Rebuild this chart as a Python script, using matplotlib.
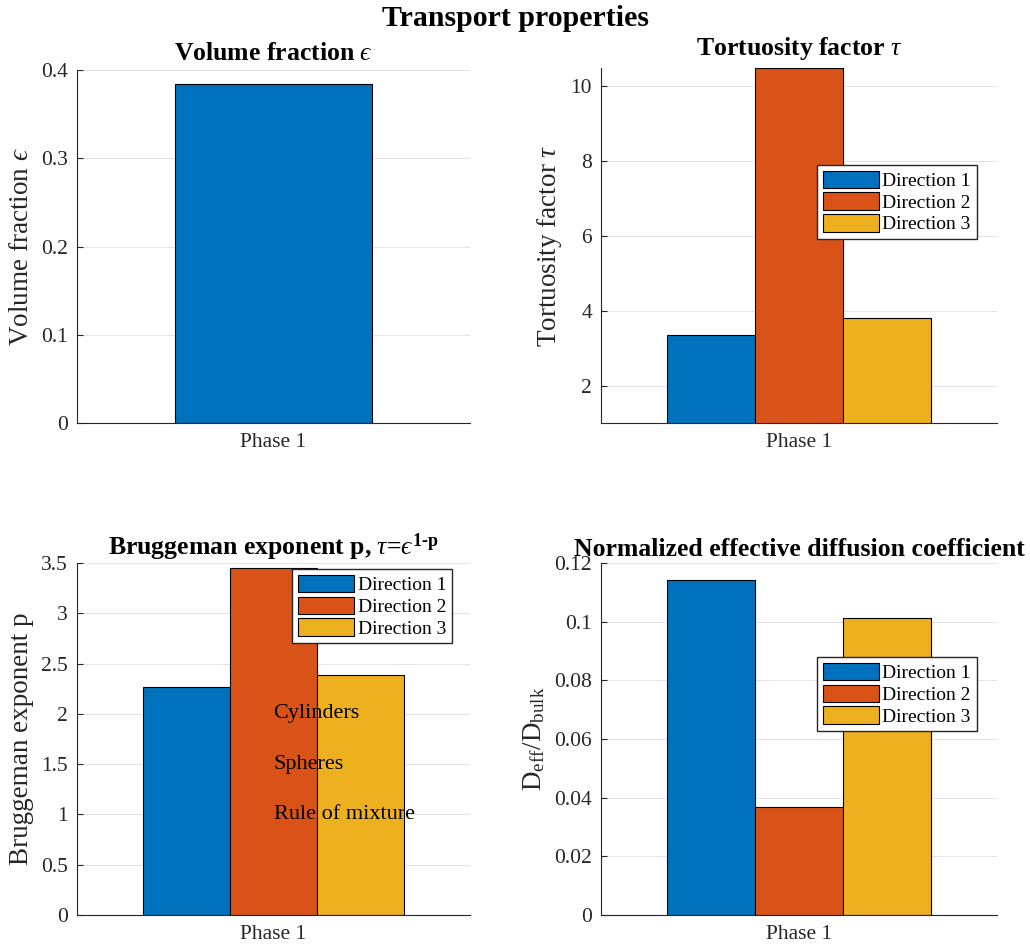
import matplotlib
matplotlib.use("Agg")
import matplotlib.pyplot as plt
import numpy as np

# ---- data ----
phase_labels = ["Phase 1"]
direction_labels = ["Direction 1", "Direction 2", "Direction 3"]
volume_fraction = [0.384]
tortuosity = [3.36, 10.47, 3.79]
bruggeman = [2.27, 3.45, 2.39]
norm_diffusion = [0.1143, 0.0367, 0.1013]
bruggeman_refs = ["Cylinders", "Spheres", "Rule of mixture"]
bruggeman_ref_y = [2.0, 1.5, 1.0]

colors = ["#0072BD", "#D95319", "#EDB120"]
axis_color = "#262626"
grid_color = "#e3e3e3"

plt.rcParams["font.family"] = ["Liberation Serif", "DejaVu Serif"]
plt.rcParams["mathtext.fontset"] = "custom"
plt.rcParams["mathtext.rm"] = "Liberation Serif"
plt.rcParams["mathtext.it"] = "Liberation Serif:italic"
plt.rcParams["mathtext.bf"] = "Liberation Serif:bold"
plt.rcParams["mathtext.fallback"] = "stix"

TICK_FS = 15.5
LABEL_FS = 19.5
TITLE_FS = 18.5
EPS = "\u03f5"  # lunate epsilon

fig = plt.figure(figsize=(10.3, 9.5), dpi=100)

def px_axes(left, right, top, bottom):
    W, H = 1030, 950
    return fig.add_axes([left / W, 1 - bottom / H, (right - left) / W, (bottom - top) / H])

ax_tl = px_axes(77, 470, 70, 423)
ax_tr = px_axes(601, 997, 68, 423)
ax_bl = px_axes(77, 470, 563, 915)
ax_br = px_axes(601, 997, 563, 915)


def style(ax, yticks, yticklabels, ylim):
    ax.set_xlim(0.5, 1.5)
    ax.set_ylim(*ylim)
    ax.set_yticks(yticks)
    ax.set_yticklabels(yticklabels)
    ax.set_xticks([1])
    ax.set_xticklabels(phase_labels)
    for s in ("top", "right"):
        ax.spines[s].set_visible(False)
    for s in ("left", "bottom"):
        ax.spines[s].set_color(axis_color)
        ax.spines[s].set_linewidth(0.8)
    ax.tick_params(axis="y", direction="in", length=4, width=0.8, color=axis_color,
                   labelcolor=axis_color, labelsize=TICK_FS, pad=6.5)
    ax.tick_params(axis="x", direction="in", length=0, labelcolor=axis_color,
                   labelsize=TICK_FS, pad=7)
    ax.yaxis.grid(True, color=grid_color, linewidth=0.8)
    ax.set_axisbelow(True)


def grouped(ax, values):
    width = 0.222
    offsets = (np.arange(len(values)) - (len(values) - 1) / 2) * width
    for i, v in enumerate(values):
        ax.bar(1 + offsets[i], v, width=width, color=colors[i],
               edgecolor="black", linewidth=0.8, label=direction_labels[i])


def legend(ax, anchor):
    ax.legend(loc="upper right", bbox_to_anchor=anchor, fontsize=14,
              fancybox=False, framealpha=1, edgecolor=axis_color,
              handlelength=2.85, handleheight=1.0, handletextpad=0.2,
              labelspacing=0.12, borderpad=0.3, borderaxespad=0)


# Volume fraction
ax_tl.bar(1, volume_fraction[0], width=0.5, color=colors[0], edgecolor="black", linewidth=0.8)
style(ax_tl, [0, 0.1, 0.2, 0.3, 0.4], ["0", "0.1", "0.2", "0.3", "0.4"], (0, 0.4))
ax_tl.set_title(r"Volume fraction $%s$" % EPS, fontsize=TITLE_FS, fontweight="bold", pad=7)
ax_tl.set_ylabel(r"Volume fraction $%s$" % EPS, fontsize=LABEL_FS, color=axis_color, labelpad=5)

# Tortuosity factor
grouped(ax_tr, tortuosity)
style(ax_tr, [2, 4, 6, 8, 10], ["2", "4", "6", "8", "10"], (1.0, 10.47))
ax_tr.set_title(r"Tortuosity factor $\tau$", fontsize=TITLE_FS, fontweight="bold", pad=9)
ax_tr.set_ylabel(r"Tortuosity factor $\tau$", fontsize=LABEL_FS, color=axis_color, labelpad=5)
legend(ax_tr, (0.949, 0.727))

# Bruggeman exponent
grouped(ax_bl, bruggeman)
style(ax_bl, np.arange(0, 3.51, 0.5),
      ["0", "0.5", "1", "1.5", "2", "2.5", "3", "3.5"], (0, 3.5))
ax_bl.set_title("Bruggeman exponent p, " + r"$\tau$=$%s^{\mathbf{1‐p}}$" % EPS,
                fontsize=TITLE_FS, fontweight="bold", pad=6)
ax_bl.set_ylabel("Bruggeman exponent p", fontsize=LABEL_FS, color=axis_color, labelpad=5)
legend(ax_bl, (0.954, 0.983))
for txt, yv in zip(bruggeman_refs, bruggeman_ref_y):
    ax_bl.text(1.0, yv, txt, fontsize=16, ha="left", va="center", color="black")

# Normalized effective diffusion coefficient
grouped(ax_br, norm_diffusion)
style(ax_br, np.arange(0, 0.121, 0.02),
      ["0", "0.02", "0.04", "0.06", "0.08", "0.1", "0.12"], (0, 0.12))
ax_br.set_title("Normalized effective diffusion coefficient", fontsize=TITLE_FS,
                fontweight="bold", pad=5)
ax_br.set_ylabel(r"D$_{\mathrm{eff}}$/D$_{\mathrm{bulk}}$", fontsize=LABEL_FS,
                 color=axis_color, labelpad=5)
legend(ax_br, (0.949, 0.733))

fig.text(0.5, 1 - 18 / 950, "Transport properties", fontsize=21.5, fontweight="bold",
         ha="center", va="center")

fig.savefig("out.png", dpi=100)
